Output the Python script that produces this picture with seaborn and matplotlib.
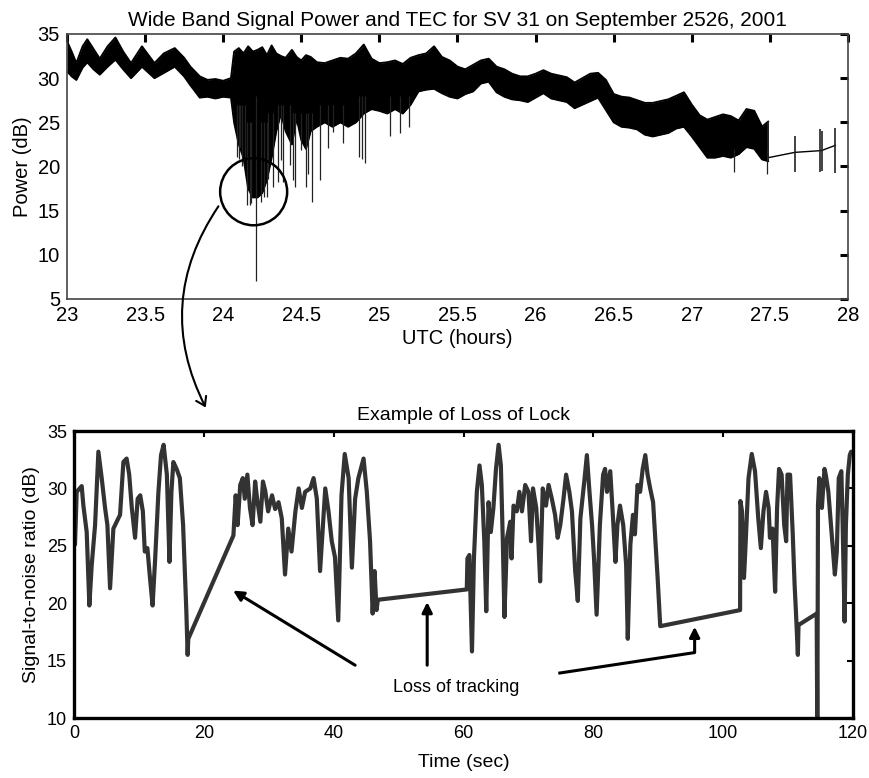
import numpy as np
import pandas as pd
import matplotlib
matplotlib.use("Agg")
import matplotlib.pyplot as plt
from matplotlib.patches import Ellipse
import seaborn as sns

# ---- top panel: wide band signal power, envelope of the dense trace ----
power_hours = [23.00, 23.03, 23.06, 23.10, 23.13, 23.17, 23.21, 23.26, 23.31, 23.36,
               23.41, 23.48, 23.56, 23.62, 23.69, 23.75, 23.79, 23.85, 23.90, 23.95,
               24.00, 24.05,
               24.07, 24.10, 24.13, 24.16, 24.19, 24.22, 24.25, 24.28, 24.31, 24.34,
               24.37, 24.40, 24.44, 24.47, 24.50, 24.53, 24.56, 24.60,
               24.65, 24.70, 24.75, 24.80, 24.85, 24.90, 24.95, 25.00, 25.05, 25.10,
               25.15, 25.20, 25.25, 25.30, 25.35, 25.40, 25.45, 25.50, 25.55, 25.60,
               25.65, 25.70, 25.75, 25.80, 25.85, 25.90, 25.95, 26.00, 26.05, 26.10,
               26.15, 26.20, 26.25, 26.30, 26.35, 26.40, 26.45, 26.50, 26.55, 26.60,
               26.65, 26.70, 26.75, 26.80, 26.85, 26.90, 26.95, 27.00, 27.05, 27.10,
               27.15, 27.20, 27.25, 27.30, 27.35, 27.40, 27.45, 27.49]
power_upper = [34.2, 33.0, 31.7, 33.6, 34.4, 33.3, 32.2, 33.6, 34.6, 33.0,
               31.7, 33.6, 31.7, 32.8, 33.4, 32.3, 31.3, 30.2, 29.8, 29.9,
               29.7, 30.0,
               33.0, 33.4, 32.8, 33.6, 33.0, 33.2, 33.5, 32.6, 33.7, 32.8,
               32.5, 32.3, 33.2, 32.4, 32.0, 32.6, 32.4, 31.8,
               31.7, 32.0, 32.3, 32.2, 32.8, 33.8, 32.2, 31.7, 31.8, 32.0,
               31.6, 32.3, 32.6, 32.8, 33.6, 32.4, 32.0, 31.3, 31.0, 31.5,
               32.0, 32.2, 31.3, 31.0, 30.5, 30.2, 30.2, 30.5, 30.9, 30.5,
               30.3, 30.1, 29.5, 30.0, 30.5, 30.6, 29.8, 28.2, 27.9, 27.8,
               27.5, 27.2, 27.2, 27.4, 27.6, 28.0, 28.4, 27.0, 25.8, 25.3,
               25.6, 25.9, 25.7, 25.2, 26.5, 26.3, 24.5, 25.1]
power_lower = [30.8, 30.2, 29.8, 31.2, 31.8, 31.0, 30.4, 31.3, 32.1, 31.0,
               30.0, 31.3, 30.0, 30.6, 31.3, 30.2, 29.2, 27.8, 27.9, 27.7,
               27.9, 27.8,
               25.0, 22.5, 21.0, 17.5, 16.5, 16.5, 17.0, 18.5, 21.0, 24.0,
               26.0, 24.0, 22.5, 25.5, 23.0, 22.0, 24.0, 24.5,
               25.0, 24.5, 25.0, 24.5, 25.0, 26.0, 26.5, 26.3, 26.0, 26.5,
               26.0, 27.0, 28.5, 28.7, 28.8, 28.3, 27.9, 27.7, 28.2, 28.5,
               29.4, 29.6, 28.4, 27.9, 27.6, 27.5, 27.3, 27.8, 28.3, 27.7,
               27.5, 27.3, 26.6, 27.0, 27.4, 27.8, 26.4, 25.0, 24.5, 24.4,
               24.2, 23.6, 23.4, 23.6, 23.8, 24.3, 24.5, 23.4, 22.2, 21.0,
               21.0, 21.2, 21.0, 21.4, 22.2, 22.0, 20.8, 20.6]

# thin downward fades inside the scintillation period
spike_hours = [24.09, 24.10, 24.11, 24.12, 24.14, 24.15, 24.17, 24.18, 24.21, 24.24,
               24.26, 24.28, 24.29, 24.32, 24.35, 24.37, 24.38, 24.43, 24.45, 24.46,
               24.50, 24.53, 24.54, 24.57, 24.62, 24.67, 24.70, 24.77, 24.87, 24.89,
               24.91, 25.07, 25.13, 25.19, 27.27, 27.48]
spike_low = [21.1, 20.9, 22.2, 20.0, 21.1, 15.6, 15.6, 15.9, 7.0, 16.0,
             16.6, 16.6, 18.6, 17.7, 18.2, 20.7, 18.2, 20.2, 18.5, 17.7,
             21.9, 17.7, 19.2, 16.0, 18.5, 22.1, 23.9, 22.7, 21.1, 20.9,
             20.4, 23.4, 23.8, 24.5, 19.4, 19.2]
spike_high = [27.0, 27.0, 27.0, 27.0, 27.0, 25.0, 25.0, 25.0, 28.0, 25.0,
              25.0, 25.0, 26.0, 26.0, 27.0, 27.0, 27.0, 27.0, 26.0, 26.0,
              26.0, 26.0, 26.0, 26.0, 27.0, 27.0, 27.0, 27.0, 28.0, 28.0,
              28.0, 28.0, 28.0, 28.0, 22.0, 22.0]

# after 27.5 h only a few samples remain
tail_hours = [27.49, 27.66, 27.83, 27.92]
tail_power = [21.0, 21.6, 21.8, 22.4]
tail_spike_hours = [27.49, 27.66, 27.82, 27.835, 27.92]
tail_spike_low = [20.6, 19.4, 19.4, 19.5, 19.3]
tail_spike_high = [25.1, 23.4, 24.3, 24.0, 24.4]

hour_ticks = [23, 23.5, 24, 24.5, 25, 25.5, 26, 26.5, 27, 27.5, 28]
power_ticks = [5, 10, 15, 20, 25, 30, 35]

# ---- bottom panel: signal-to-noise ratio during loss of lock ----
snr_time = [0.15, 0.41, 1.18, 1.44, 1.95, 2.36, 2.72, 3.24, 3.75, 4.26,
            4.78, 5.14, 5.55, 6.06, 6.57, 7.09, 7.6, 8.1, 8.5, 8.9,
            9.4, 9.8, 10.2, 10.6, 10.9, 11.3, 11.7, 12.1, 12.5, 13.0,
            13.4, 13.8, 14.3, 14.7, 15.0, 15.3, 15.8, 16.3, 16.8, 17.3,
            17.5, 17.6,
            24.55, 24.9, 25.2, 25.6, 26.0, 26.3, 26.7, 27.1, 27.5, 27.9,
            28.2, 28.7, 29.1, 29.45, 29.9, 30.5, 30.98, 31.5, 32.0, 32.5,
            33.0, 33.5, 34.1, 34.6, 35.1, 35.6, 36.4, 36.9, 37.4, 37.9,
            38.7, 39.2, 39.7, 40.2, 40.7, 41.2, 41.7, 42.3, 42.8, 43.3,
            43.8, 44.6, 45.1, 45.6, 46.0, 46.3, 46.6, 46.8,
            60.5, 60.6, 60.9, 61.3, 61.6, 62.05, 62.46, 62.82, 63.2, 63.5,
            63.85, 64.2, 64.6, 65.0, 65.4, 65.75, 66.05, 66.3, 66.7, 67.2,
            67.4, 67.7, 68.2, 68.6, 69.0, 69.5, 70.0, 70.4, 70.7, 71.2,
            71.55, 71.8, 72.2, 72.7, 73.1, 73.6, 74.1, 74.5, 74.9, 75.4,
            75.8, 76.3, 76.7, 77.2, 77.6, 78.0, 78.6, 79.0, 79.4, 79.8,
            80.1, 80.5, 81.0, 81.5, 81.8, 82.1, 82.6, 83.0, 83.4, 83.7,
            84.1, 84.6, 85.05, 85.3, 85.7, 86.1, 86.4, 86.8, 87.2, 87.6,
            88.0, 88.35, 88.75, 89.2, 89.5, 89.9, 90.3,
            102.6, 102.65, 102.9, 103.2, 103.4, 103.9, 104.4, 104.9, 105.4, 105.8,
            106.2, 106.6, 107.0, 107.2, 107.6, 108.0, 108.3, 108.6, 109.0, 109.4,
            109.7, 109.9, 110.3, 110.7, 111.0, 111.2, 111.5, 111.6,
            114.4, 114.5, 114.6, 114.8, 115.2, 115.6, 115.8, 116.2, 116.6, 117.2,
            117.5, 117.8, 118.2, 118.4, 118.7, 118.9, 119.2, 119.5, 119.7]
snr_db = [25.1, 29.7, 30.2, 28.5, 26.2, 19.8, 23.3, 26.8, 33.2, 30.9,
          28.3, 26.8, 21.3, 26.5, 27.1, 27.7, 32.3, 32.6, 31.2, 28.3,
          25.7, 29.1, 29.4, 28.0, 24.5, 24.8, 22.2, 19.8, 23.9, 29.7,
          32.9, 33.8, 31.2, 23.6, 29.7, 32.3, 31.7, 30.9, 26.8, 19.3,
          15.5, 16.9,
          25.9, 29.4, 26.8, 30.3, 30.9, 29.1, 31.2, 28.3, 26.8, 30.6,
          29.1, 27.1, 30.6, 29.8, 28.0, 29.4, 28.2, 28.8, 27.4, 22.5,
          26.5, 24.5, 28.0, 30.0, 28.3, 29.7, 30.0, 30.9, 29.1, 22.8,
          30.0, 28.0, 25.4, 24.0, 18.5, 29.4, 33.0, 30.9, 23.1, 29.1,
          30.9, 32.6, 29.7, 25.4, 19.1, 22.8, 19.4, 20.3,
          21.2, 23.9, 24.2, 15.8, 23.9, 29.7, 32.0, 30.3, 25.4, 19.3,
          28.8, 26.2, 28.3, 31.7, 33.8, 32.0, 25.4, 18.8, 25.7, 27.1,
          23.9, 28.5, 28.0, 29.7, 28.0, 30.3, 29.7, 25.4, 30.0, 28.3,
          25.1, 21.9, 30.0, 28.5, 30.3, 29.1, 27.7, 25.7, 26.8, 29.1,
          31.2, 29.7, 28.0, 22.8, 20.2, 27.4, 30.6, 32.9, 29.7, 26.8,
          23.9, 19.0, 26.8, 31.2, 31.7, 29.7, 31.5, 27.7, 23.6, 26.8,
          28.5, 26.8, 23.3, 16.9, 25.1, 27.7, 26.0, 30.3, 29.7, 31.7,
          32.9, 31.2, 30.0, 28.8, 26.0, 22.2, 18.0,
          19.4, 28.9, 28.0, 22.2, 24.5, 30.9, 33.0, 31.5, 27.4, 24.8,
          28.0, 29.7, 28.3, 25.7, 26.5, 21.0, 28.3, 31.7, 31.2, 26.8,
          25.4, 31.2, 31.2, 26.2, 21.6, 19.3, 15.5, 18.1,
          19.1, 8.0, 28.5, 30.9, 28.3, 31.7, 31.2, 29.7, 26.8, 22.5,
          24.5, 30.9, 31.5, 26.8, 18.4, 26.8, 31.2, 32.9, 33.2]

time_ticks = [0, 20, 40, 60, 80, 100, 120]
snr_ticks = [10, 15, 20, 25, 30, 35]

sns.set_style("white")
top_font = ['Liberation Sans', 'DejaVu Sans']
low_font = ['Liberation Sans Narrow', 'Liberation Sans', 'DejaVu Sans']
plt.rcParams['font.family'] = top_font
plt.rcParams['text.color'] = 'black'
plt.rcParams['axes.labelcolor'] = 'black'

fig = plt.figure(figsize=(8.7, 7.78), dpi=100)
ax1 = fig.add_axes([0.077, 0.6157, 0.8977, 0.3406])
ax2 = fig.add_axes([0.0851, 0.0771, 0.8954, 0.3689])

# top panel
top = pd.DataFrame({'hour': power_hours, 'upper': power_upper, 'lower': power_lower})
ax1.fill_between(top['hour'], top['lower'], top['upper'], color='black', lw=0)
sns.lineplot(data=top, x='hour', y='upper', color='black', lw=1.4, estimator=None, ax=ax1)
sns.lineplot(data=top, x='hour', y='lower', color='black', lw=1.4, estimator=None, ax=ax1)
ax1.vlines(spike_hours, spike_low, spike_high, color='#222222', lw=0.9)
sns.lineplot(x=tail_hours, y=tail_power, color='black', lw=1.0, estimator=None, ax=ax1)
ax1.vlines(tail_spike_hours, tail_spike_low, tail_spike_high, color='#222222', lw=1.2)

ax1.add_patch(Ellipse((24.195, 17.14), width=0.429, height=7.59, fill=False,
                      ec='black', lw=1.8, zorder=5))

ax1.set_xlim(23, 28)
ax1.set_ylim(5, 35)
ax1.set_xticks(hour_ticks)
ax1.set_xticklabels(['%g' % h for h in hour_ticks])
ax1.set_yticks(power_ticks)
ax1.tick_params(direction='in', length=6, width=2.2, top=True, right=True,
                labelsize=14.5, pad=5, colors='black')
for s in ax1.spines.values():
    s.set_color('#444444')
    s.set_linewidth(1.2)
ax1.set_title('Wide Band Signal Power and TEC for SV 31 on September 2526, 2001',
              fontsize=15, pad=6)
ax1.set_xlabel('UTC (hours)', fontsize=14.5, labelpad=3)
ax1.set_ylabel('Power (dB)', fontsize=14.5, labelpad=4)

# curved pointer from the circled fade down to the zoomed panel
fig.patches.append(matplotlib.patches.FancyArrowPatch(
    (220 / 870, 1 - 204 / 778), (207 / 870, 1 - 410 / 778),
    transform=fig.transFigure, connectionstyle='arc3,rad=0.3',
    arrowstyle='->,head_length=6,head_width=4', lw=1.5, color='black'))

# bottom panel
sns.lineplot(x=snr_time, y=snr_db, color='#333333', lw=3.0, estimator=None,
             sort=False, ax=ax2)
ax2.set_xlim(0, 120)
ax2.set_ylim(10, 35)
ax2.set_xticks(time_ticks)
ax2.set_yticks(snr_ticks)
ax2.tick_params(direction='in', length=4, width=1.5, top=True, right=True,
                labelsize=13, pad=5, colors='black')
for lab in ax2.get_xticklabels() + ax2.get_yticklabels():
    lab.set_family(low_font)
for s in ax2.spines.values():
    s.set_color('black')
    s.set_linewidth(2.4)
ax2.set_title('Example of Loss of Lock', fontsize=14, pad=8, family=low_font)
ax2.set_xlabel('Time (sec)', fontsize=14, labelpad=9, family=low_font)
ax2.set_ylabel('Signal-to-noise ratio (dB)', fontsize=14, labelpad=5, family=low_font)

arrow_kw = dict(arrowstyle='-|>,head_length=0.6,head_width=0.3', lw=2.2, color='black',
                shrinkA=0, shrinkB=0)
ax2.annotate('', xy=(24.5, 21.1), xytext=(43.3, 14.6), arrowprops=arrow_kw)
ax2.annotate('', xy=(54.4, 20.1), xytext=(54.4, 14.6), arrowprops=arrow_kw)
ax2.plot([74.6, 95.6], [13.9, 15.7], color='black', lw=2.2, solid_capstyle='butt')
ax2.annotate('', xy=(95.6, 17.95), xytext=(95.6, 15.7), arrowprops=arrow_kw)
ax2.text(58.9, 12.7, 'Loss of tracking', ha='center', va='center', fontsize=13,
         family=low_font)

fig.savefig('out.png', dpi=100)
